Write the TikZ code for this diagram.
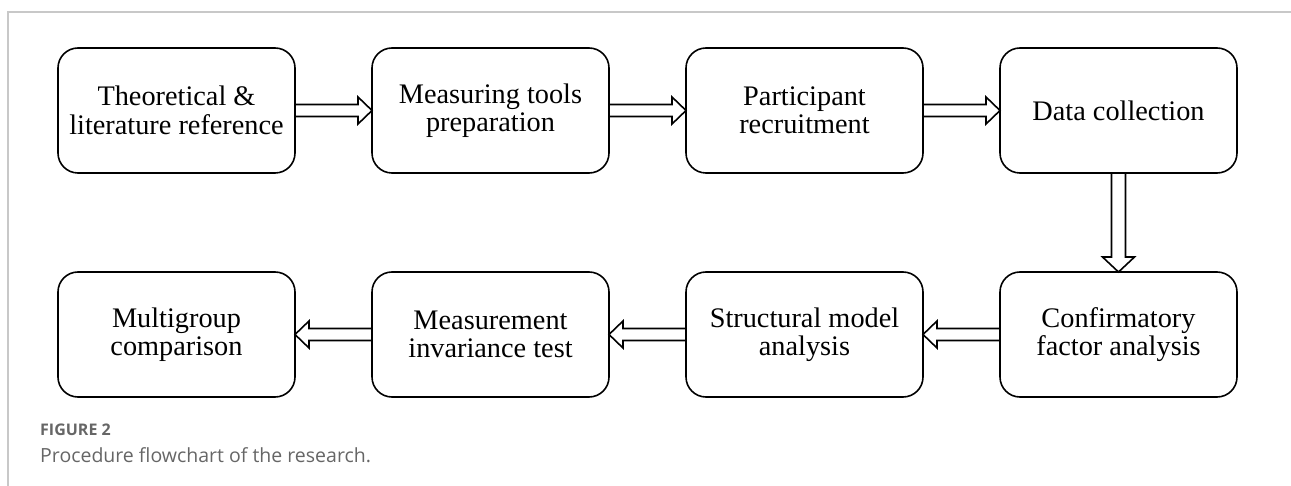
\documentclass[tikz,border=0pt]{standalone}
\usepackage{fontspec}
\setmainfont{Liberation Serif}
\newfontfamily\capfont{Open Sans}
\usetikzlibrary{calc}
\definecolor{framegray}{HTML}{C8C8C8}
\definecolor{capgray}{HTML}{666666}
\tikzset{
  box/.style={draw, line width=1.6pt, rounded corners=20pt, minimum width=237pt,
    minimum height=125pt, align=center, inner sep=0pt, outer sep=0pt,
    font=\fontsize{28.3}{28.5}\selectfont},
  hollow/.style={draw, line width=1.6pt, line join=miter},
  framestyle/.style={draw=framegray, line width=1.5pt}
}
\newcommand\harrow[3]{%
  \path[hollow] let \p1=(#1), \p2=(#2) in
    (\x1,\y1+6pt) -- (\x2#314pt,\y1+6pt) -- (\x2#314pt,\y1+13.5pt) -- (\x2,\y1)
    -- (\x2#314pt,\y1-13.5pt) -- (\x2#314pt,\y1-6pt) -- (\x1,\y1-6pt);}
\begin{document}
\begin{tikzpicture}[x=1pt,y=-1pt]
\useasboundingbox (0,0) rectangle (1291,486);
\coordinate (ftl) at (8,12);
\coordinate (ftr) at (1291,12);
\coordinate (fbl) at (8,486);
\draw[framestyle] (fbl) -- (ftl) -- (ftr);

\node[box] (b1) at (176.5,110.5) {Theoretical \&\\literature reference};
\node[box] (b2) at (490.5,110.5) {Measuring tools\\preparation};
\node[box] (b3) at (804.5,110.5) {Participant\\recruitment};
\node[box] (b4) at (1118.5,110.5) {Data collection};
\node[box] (b5) at (1118.5,334.5) {Confirmatory\\factor analysis};
\node[box] (b6) at (804.5,334.5) {Structural model\\analysis};
\node[box] (b7) at (490.5,334.5) {Measurement\\invariance test};
\node[box] (b8) at (176.5,334.5) {Multigroup\\comparison};

\harrow{b1.east}{b2.west}{-}
\harrow{b2.east}{b3.west}{-}
\harrow{b3.east}{b4.west}{-}
\harrow{b5.west}{b6.east}{+}
\harrow{b6.west}{b7.east}{+}
\harrow{b7.west}{b8.east}{+}
\path[hollow] let \p1=(b4.south), \p2=(b5.north) in
  (\x1-7pt,\y1) -- (\x1-7pt,\y2+15pt) -- (\x1-16pt,\y2+15pt) -- (\x1,\y2)
  -- (\x1+16pt,\y2+15pt) -- (\x1+7pt,\y2+15pt) -- (\x1+7pt,\y1);

\node[anchor=base west, inner sep=0pt, text=capgray, font=\capfont\bfseries\fontsize{16}{18}\selectfont] (fig) at (40,435) {FIGURE 2};
\node[anchor=base west, inner sep=0pt, text=capgray, font=\capfont\fontsize{19.5}{22}\selectfont] (cap) at (40,462) {Procedure flowchart of the research.};
\end{tikzpicture}
\end{document}
